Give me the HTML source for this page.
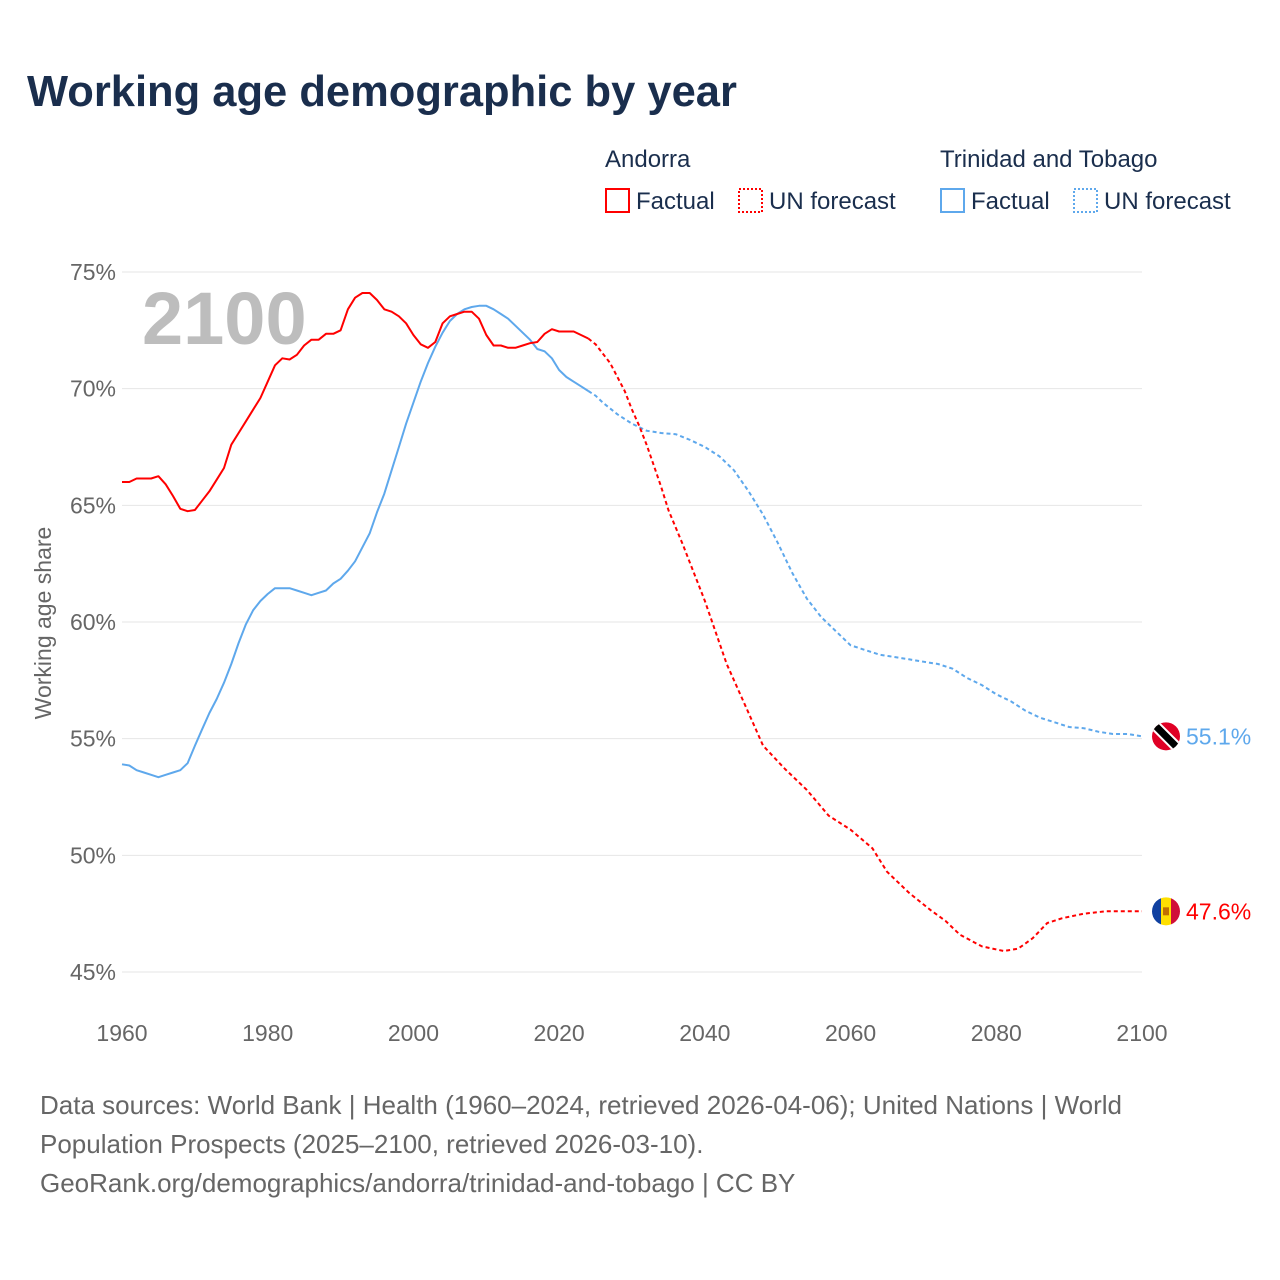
<!DOCTYPE html>
<html><head><meta charset="utf-8">
<style>
body{margin:0;background:#fff;font-family:"Liberation Sans",sans-serif;}
#wrap{position:relative;width:1280px;height:1280px;overflow:hidden;}
.t{position:absolute;white-space:nowrap;}
</style></head><body>
<div id="wrap">
<div class="t" style="left:27px;top:68px;font-size:43.5px;font-weight:bold;color:#1a2e4d;">Working age demographic by year</div>
<svg id="chart" width="1280" height="1280" style="position:absolute;left:0;top:0"></svg>
<div class="t" style="left:40px;top:1086px;font-size:26px;line-height:39px;color:#666;">Data sources: World Bank | Health (1960–2024, retrieved 2026-04-06); United Nations | World<br>Population Prospects (2025–2100, retrieved 2026-03-10).<br>GeoRank.org/demographics/andorra/trinidad-and-tobago | CC BY</div>
</div>
<script>
const andYears=[1960,1961,1962,1963,1964,1965,1966,1967,1968,1969,1970,1971,1972,1973,1974,1975,1976,1977,1978,1979,1980,1981,1982,1983,1984,1985,1986,1987,1988,1989,1990,1991,1992,1993,1994,1995,1996,1997,1998,1999,2000,2001,2002,2003,2004,2005,2006,2007,2008,2009,2010,2011,2012,2013,2014,2015,2016,2017,2018,2019,2020,2021,2022,2023,2024];
const andVals=[66.0,66.0,66.15,66.15,66.15,66.25,65.9,65.4,64.85,64.75,64.8,65.2,65.6,66.1,66.6,67.6,68.1,68.6,69.1,69.6,70.3,71.0,71.3,71.25,71.45,71.85,72.1,72.1,72.35,72.35,72.5,73.4,73.9,74.1,74.1,73.8,73.4,73.3,73.1,72.8,72.3,71.9,71.75,72.0,72.8,73.1,73.2,73.3,73.3,73.0,72.3,71.85,71.85,71.75,71.75,71.85,71.95,72.0,72.35,72.55,72.45,72.45,72.45,72.3,72.15];
const andFYears=[2024,2025,2026,2027,2028,2029,2030,2031,2032,2033,2034,2035,2037,2038,2039,2040,2043,2046,2048,2051,2054,2057,2060,2063,2065,2068,2071,2073,2075,2078,2081,2083,2085,2087,2089,2092,2095,2100];
const andFVals=[72.15,71.9,71.5,71.1,70.5,69.9,69.1,68.4,67.6,66.7,65.8,64.8,63.3,62.5,61.7,60.9,58.2,56.1,54.7,53.7,52.8,51.7,51.1,50.3,49.3,48.4,47.65,47.2,46.6,46.1,45.9,46.0,46.45,47.1,47.3,47.5,47.6,47.6];
const ttoYears=andYears;
const ttoVals=[53.9,53.85,53.65,53.55,53.45,53.35,53.45,53.55,53.65,53.95,54.7,55.4,56.1,56.7,57.4,58.2,59.1,59.9,60.5,60.9,61.2,61.45,61.45,61.45,61.35,61.25,61.15,61.25,61.35,61.65,61.85,62.2,62.6,63.2,63.8,64.7,65.5,66.5,67.5,68.5,69.4,70.3,71.1,71.8,72.4,72.9,73.2,73.4,73.5,73.55,73.55,73.4,73.2,73.0,72.7,72.4,72.1,71.7,71.6,71.3,70.8,70.5,70.3,70.1,69.9];
const ttoFYears=[2024,2025,2026,2028,2030,2032,2034,2036,2038,2040,2042,2044,2046,2048,2050,2052,2054,2056,2058,2060,2062,2064,2066,2068,2070,2072,2074,2076,2078,2080,2082,2084,2086,2088,2090,2092,2094,2096,2098,2100];
const ttoFVals=[69.9,69.7,69.4,68.9,68.5,68.2,68.1,68.05,67.8,67.5,67.1,66.5,65.6,64.6,63.4,62.1,61.0,60.2,59.6,59.0,58.8,58.6,58.5,58.4,58.3,58.2,58.0,57.6,57.3,56.9,56.6,56.2,55.9,55.7,55.5,55.45,55.3,55.2,55.2,55.1];
const yTicks=[45,50,55,60,65,70,75];
const xTicks=[1960,1980,2000,2020,2040,2060,2080,2100];

const NS="http://www.w3.org/2000/svg";
const svg=document.getElementById('chart');
const X=y=>122+(y-1960)*(1020/140);
const Y=v=>272+(75-v)*(700/30);
function mk(tag,attrs,parent){const e=document.createElementNS(NS,tag);for(const k in attrs)e.setAttribute(k,attrs[k]);(parent||svg).appendChild(e);return e;}
yTicks.forEach(t=>{
  const g=mk('line',{x1:122,x2:1142,y1:Y(t),y2:Y(t),stroke:'#e6e6e6','stroke-width':1});
  
  
  const tx=mk('text',{x:116,y:Y(t)+8,'text-anchor':'end','font-size':23,fill:'#666','font-family':'Liberation Sans, sans-serif'});
  tx.textContent=t+'%';
  
  
});
xTicks.forEach(t=>{
  const tx=mk('text',{x:X(t),y:1041,'text-anchor':'middle','font-size':23,fill:'#666','font-family':'Liberation Sans, sans-serif'});
  tx.textContent=t;
  
  
});
const yt=mk('text',{x:0,y:0,transform:'translate(51,623) rotate(-90)','text-anchor':'middle','font-size':23,fill:'#666','font-family':'Liberation Sans, sans-serif'});
yt.textContent='Working age share';


const yr=mk('text',{x:142,y:344,'font-size':74,'font-weight':'bold',fill:'#bdbdbd','font-family':'Liberation Sans, sans-serif'});
yr.textContent='2100';


function line(xs,vs,color,dash,name){
  const d=xs.map((x,i)=>(i?'L':'M')+X(x).toFixed(1)+','+Y(vs[i]).toFixed(1)).join('');
  const p=mk('path',{d:d,fill:'none',stroke:color,'stroke-width':2,'stroke-linejoin':'round'});
  if(dash)p.setAttribute('stroke-dasharray','4,3');
  
  
}
line(ttoYears,ttoVals,'#5ea8ec',false,'trinidad-factual-line');
line(ttoFYears,ttoFVals,'#5ea8ec',true,'trinidad-forecast-line');
line(andYears,andVals,'#ff0000',false,'andorra-factual-line');
line(andFYears,andFVals,'#ff0000',true,'andorra-forecast-line');
const tEnd=ttoFVals[ttoFVals.length-1], aEnd=andFVals[andFVals.length-1];
const ty=Y(tEnd), ay=Y(aEnd);
const defs=mk('defs',{});
const c1=mk('clipPath',{id:'cT'},defs);mk('circle',{cx:1166,cy:ty,r:14},c1);
const c2=mk('clipPath',{id:'cA'},defs);mk('circle',{cx:1166,cy:ay,r:14},c2);
const gT=mk('g',{'clip-path':'url(#cT)'});


mk('rect',{x:1150,y:ty-16,width:32,height:32,fill:'#e00025'},gT);
mk('line',{x1:1152,y1:ty-14,x2:1180,y2:ty+14,stroke:'#fff','stroke-width':11},gT);
mk('line',{x1:1152,y1:ty-14,x2:1180,y2:ty+14,stroke:'#000','stroke-width':7},gT);
const gA=mk('g',{'clip-path':'url(#cA)'});


mk('rect',{x:1150,y:ay-16,width:11,height:32,fill:'#1040a0'},gA);
mk('rect',{x:1161,y:ay-16,width:10,height:32,fill:'#fedf00'},gA);
mk('rect',{x:1171,y:ay-16,width:11,height:32,fill:'#d0103a'},gA);
mk('rect',{x:1163,y:ay-4,width:6,height:8,fill:'#c07000'},gA);
const lt=mk('text',{x:1186,y:ty+8,'font-size':23,fill:'#5ea8ec','font-family':'Liberation Sans, sans-serif'});
lt.textContent=tEnd.toFixed(1)+'%';


const la=mk('text',{x:1186,y:ay+8,'font-size':23,fill:'#ff0000','font-family':'Liberation Sans, sans-serif'});
la.textContent=aEnd.toFixed(1)+'%';


function txt(x,y,s,name){const t=mk('text',{x:x,y:y,'font-size':24,fill:'#1a2e4d','font-family':'Liberation Sans, sans-serif'});t.textContent=s;}
function box(x,color,dash,name){const r=mk('rect',{x:x,y:189,width:23,height:23,fill:'none',stroke:color,'stroke-width':2});if(dash)r.setAttribute('stroke-dasharray','2,2');}
txt(605,167,'Andorra','legend-andorra-title');
txt(940,167,'Trinidad and Tobago','legend-trinidad-title');
box(606,'#ff0000',false,'legend-andorra-factual-swatch');txt(636,209,'Factual','legend-andorra-factual');
box(739,'#ff0000',true,'legend-andorra-forecast-swatch');txt(769,209,'UN forecast','legend-andorra-forecast');
box(941,'#5ea8ec',false,'legend-trinidad-factual-swatch');txt(971,209,'Factual','legend-trinidad-factual');
box(1074,'#5ea8ec',true,'legend-trinidad-forecast-swatch');txt(1104,209,'UN forecast','legend-trinidad-forecast');
</script>
</body></html>
